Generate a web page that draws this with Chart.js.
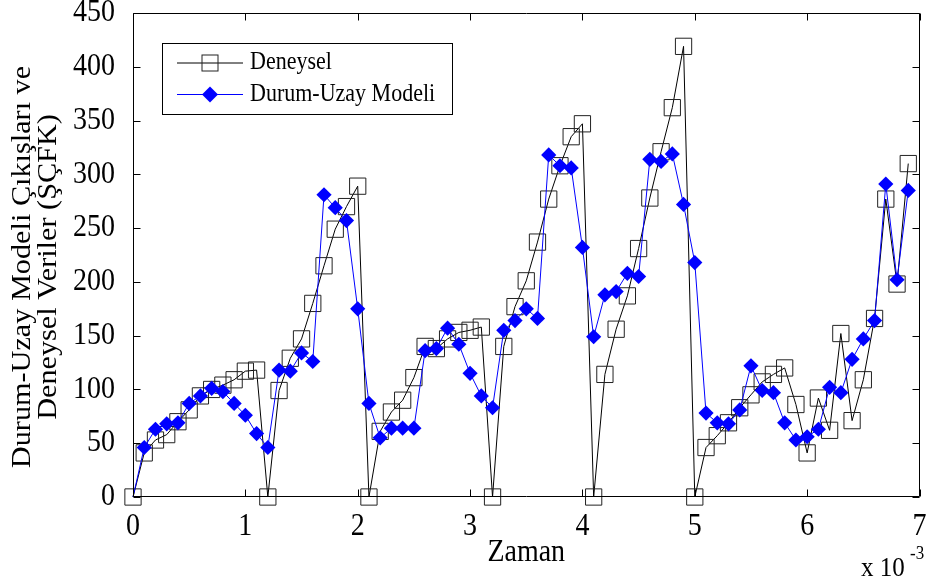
<!DOCTYPE html>
<html>
<head>
<meta charset="utf-8">
<script src="https://cdn.jsdelivr.net/npm/chart.js@4/dist/chart.umd.min.js"></script>
<style>
html,body{margin:0;padding:0;background:#ffffff;}
canvas{display:block;}
</style>
</head>
<body>
<canvas id="c" width="932" height="586"></canvas>
<script>
// ---- data ----
const zaman = [0,0.1,0.2,0.3,0.4,0.5,0.6,0.7,0.8,0.9,
               1.0,1.1,1.2,1.3,1.4,1.5,1.6,1.7,1.8,1.9,
               2.0,2.1,2.2,2.3,2.4,2.5,2.6,2.7,2.8,2.9,
               3.0,3.1,3.2,3.3,3.4,3.5,3.6,3.7,3.8,3.9,
               4.0,4.1,4.2,4.3,4.4,4.5,4.6,4.7,4.8,4.9,
               5.0,5.1,5.2,5.3,5.4,5.5,5.6,5.7,5.8,5.9,
               6.0,6.1,6.2,6.3,6.4,6.5,6.6,6.7,6.8,6.9];
const deneysel = [0,41,53,58,70,81,94,100,104,109,
                  117,118,0,99,129,147,180,215,249,270,
                  289,0,61,79,90,111,140,138,147,153,
                  155,158,0,140,177,201,237,277,308,335,
                  347,0,114,156,187,231,278,321,362,419,
                  0,46,57,69,83,95,107,114,120,86,
                  41,92,62,152,71,109,166,277,198,310];
const durumUzay = [0,46,63,68,69,87,94,101,98,87,
                   76,59,46,118,117,134,126,281,269,257,
                   175,87,55,64,64,64,136,138,157,142,
                   115,94,83,155,164,175,166,318,308,306,
                   232,149,188,191,208,205,314,312,319,272,
                   218,78,69,68,81,122,99,97,69,53,
                   56,63,102,97,128,147,164,291,202,285];
const xTicks = [0,1,2,3,4,5,6,7];
const yTicks = [0,50,100,150,200,250,300,350,400,450];
const seriesNames = ['Deneysel','Durum-Uzay Modeli'];
const yTitleLines = ['Durum-Uzay Modeli Çıkışları ve','Deneysel Veriler (ŞÇFK)'];
const xTitle = 'Zaman';
const xExponentBase = 'x 10';
const xExponent = '-3';

// ---- text rendering: slightly tall glyphs, like the reference ----
const canvas = document.getElementById('c');
const ctx = canvas.getContext('2d');
const TEXT_SY = 1.12;
const origFill = ctx.fillText.bind(ctx);
ctx.fillText = function(text, x, y, maxWidth) {
  const m = ctx.getTransform();
  const p = m.transformPoint(new DOMPoint(x, y));
  const s = new DOMMatrix().translate(p.x, p.y).scale(1, TEXT_SY).translate(-p.x, -p.y).multiply(m);
  ctx.setTransform(s);
  if (maxWidth === undefined || maxWidth === null) origFill(text, x, y);
  else origFill(text, x, y, maxWidth);
  ctx.setTransform(m);
};

const FONT = "'Liberation Serif', 'Times New Roman', serif";

function drawSquare(c, x, y, side, color) {
  c.save();
  c.strokeStyle = color; c.lineWidth = 1;
  c.strokeRect(x - side/2, y - side/2, side, side);
  c.restore();
}
function drawDiamond(c, x, y, r, color) {
  c.save();
  c.fillStyle = color;
  c.beginPath();
  c.moveTo(x - r, y); c.lineTo(x, y - r); c.lineTo(x + r, y); c.lineTo(x, y + r);
  c.closePath(); c.fill();
  c.restore();
}

const framePlugin = {
  id: 'frame',
  afterDatasetsDraw(chart) {
    const c = chart.ctx, a = chart.chartArea;
    const xs = chart.scales.x, ys = chart.scales.y;
    const L = Math.round(a.left) + 0.5, R = Math.round(a.right) - 0.5;
    const T = Math.round(a.top) + 0.5, B = Math.round(a.bottom) - 0.5;
    const tl = 7;
    c.save();
    c.strokeStyle = '#000'; c.lineWidth = 1;
    c.beginPath();
    c.rect(L, T, R - L, B - T);
    xTicks.forEach(v => {
      const px = Math.round(xs.getPixelForValue(v)) + 0.5;
      c.moveTo(px, B); c.lineTo(px, B - tl);
      c.moveTo(px, T); c.lineTo(px, T + tl);
    });
    yTicks.forEach(v => {
      const py = Math.round(ys.getPixelForValue(v)) + 0.5;
      c.moveTo(L, py); c.lineTo(L + tl, py);
      c.moveTo(R, py); c.lineTo(R - tl, py);
    });
    c.stroke();
    c.restore();
  }
};

const textPlugin = {
  id: 'texts',
  afterDraw(chart) {
    const c = chart.ctx;
    const a = chart.chartArea;
    c.save();
    c.fillStyle = '#000';
    // y-axis title (two rotated lines)
    c.font = `27px ${FONT}`;
    c.textAlign = 'center';
    c.textBaseline = 'middle';
    const cy = (a.top + a.bottom) / 2 + 12;
    [23, 49].forEach((lx, i) => {
      c.save();
      c.translate(lx, cy);
      c.rotate(-Math.PI / 2);
      c.fillText(yTitleLines[i], 0, 0);
      c.restore();
    });
    // x-axis exponent
    c.textAlign = 'left';
    c.textBaseline = 'alphabetic';
    c.font = `25px ${FONT}`;
    c.fillText(xExponentBase, 861, 576);
    c.font = `17px ${FONT}`;
    c.fillText(xExponent, 910, 559);
    // legend
    const bx = 162.5, by = 43.5, bw = 290, bh = 71;
    c.fillStyle = '#fff';
    c.fillRect(bx, by, bw, bh);
    c.strokeStyle = '#000'; c.lineWidth = 1;
    c.strokeRect(bx, by, bw, bh);
    const ds = chart.data.datasets;
    const rows = [63, 94.5];
    rows.forEach((ry, i) => {
      c.strokeStyle = ds[i].borderColor; c.lineWidth = 1;
      c.beginPath(); c.moveTo(177, ry); c.lineTo(243, ry); c.stroke();
      if (i === 0) drawSquare(c, 210, ry, 16, ds[0].pointBorderColor);
      else drawDiamond(c, 210, ry, 8, ds[1].pointBackgroundColor);
      c.fillStyle = '#000';
      c.font = `22px ${FONT}`;
      c.textAlign = 'left';
      c.textBaseline = 'middle';
      c.fillText(seriesNames[i], 250, ry);
    });
    c.restore();
  }
};

new Chart(ctx, {
  type: 'line',
  data: {
    datasets: [
      {
        label: seriesNames[0],
        data: zaman.map((t, i) => ({x: t, y: deneysel[i]})),
        borderColor: '#000000',
        borderWidth: 1,
        pointStyle: 'rect',
        pointRadius: 11.5,
        pointBorderWidth: 1,
        pointBorderColor: '#222222',
        pointBackgroundColor: 'rgba(0,0,0,0)',
        tension: 0,
        clip: false,
        order: 2
      },
      {
        label: seriesNames[1],
        data: zaman.map((t, i) => ({x: t, y: durumUzay[i]})),
        borderColor: '#0000ff',
        borderWidth: 1,
        pointStyle: 'rectRot',
        pointRadius: (c) => c.dataIndex === 0 ? 0 : 7.6,
        pointBorderWidth: 0,
        pointBorderColor: '#0000ff',
        pointBackgroundColor: '#0000ff',
        tension: 0,
        clip: false,
        order: 1
      }
    ]
  },
  options: {
    responsive: false,
    animation: false,
    events: [],
    layout: { padding: { left: 0, right: 5, top: 13, bottom: 0 } },
    plugins: { legend: { display: false }, tooltip: { enabled: false } },
    scales: {
      x: {
        type: 'linear',
        min: 0, max: 7,
        afterBuildTicks: (s) => { s.ticks = xTicks.map(v => ({value: v})); },
        afterFit: (s) => { s.height = 89; s.paddingLeft = 0; s.paddingRight = 0; },
        grid: { display: false },
        border: { display: false },
        ticks: {
          color: '#000',
          padding: 5,
          maxRotation: 0,
          autoSkip: false,
          font: { family: FONT, size: 28, lineHeight: 1.2 }
        },
        title: {
          display: true,
          text: xTitle,
          color: '#000',
          font: { family: FONT, size: 28, lineHeight: 1.2 },
          padding: { top: 0, bottom: 16 }
        }
      },
      y: {
        type: 'linear',
        min: 0, max: 450,
        afterBuildTicks: (s) => { s.ticks = yTicks.map(v => ({value: v})); },
        afterFit: (s) => { s.width = 133; s.paddingTop = 0; s.paddingBottom = 0; },
        grid: { display: false },
        border: { display: false },
        ticks: {
          color: '#000',
          padding: 10,
          autoSkip: false,
          font: { family: FONT, size: 28, lineHeight: 0.9 }
        },
        title: { display: false }
      }
    }
  },
  plugins: [framePlugin, textPlugin]
});
</script>
</body>
</html>
